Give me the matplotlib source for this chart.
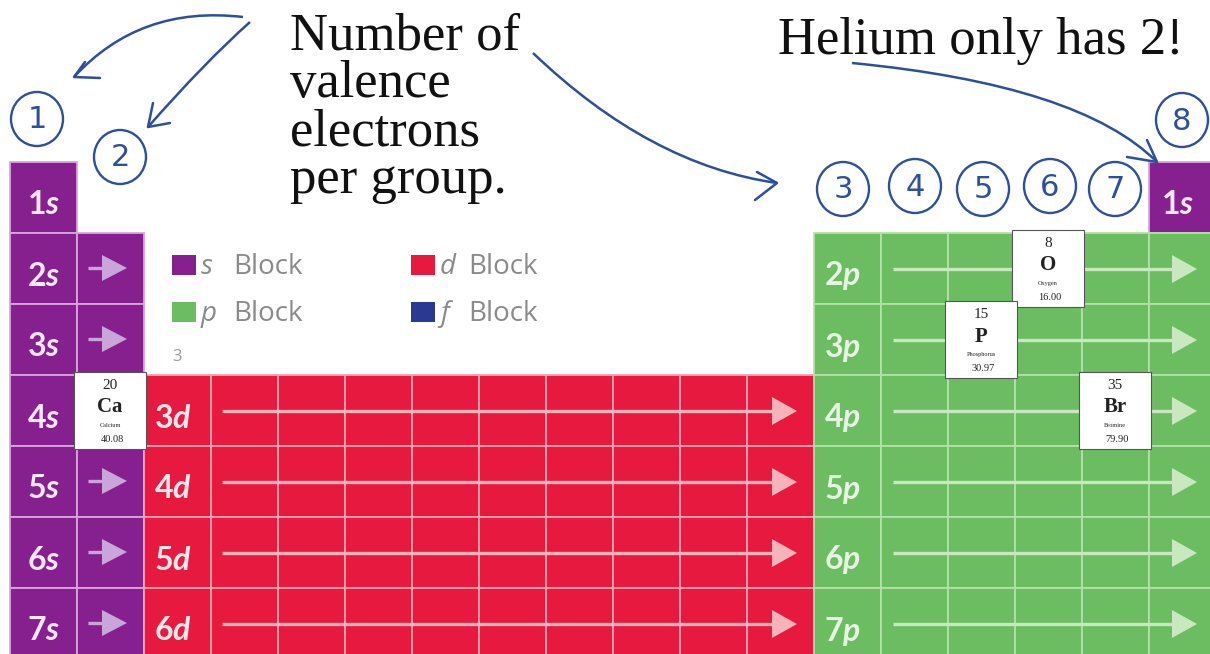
import matplotlib.pyplot as plt
from matplotlib.patches import Rectangle, Polygon, Ellipse, PathPatch
from matplotlib.path import Path

plt.rcParams["mathtext.fontset"] = "custom"
plt.rcParams["mathtext.rm"] = "Lato:bold"
plt.rcParams["mathtext.it"] = "Lato:italic:bold"

# chart content
s_labels = ["1s", "2s", "3s", "4s", "5s", "6s", "7s"]
d_labels = ["3d", "4d", "5d", "6d"]
p_labels = ["2p", "3p", "4p", "5p", "6p", "7p"]
legend_letters = ["s", "d", "p", "f"]
el_symbols = ["Ca", "O", "P", "Br"]
el_numbers = ["20", "8", "15", "35"]
el_names = ["Calcium", "Oxygen", "Phosphorus", "Bromine"]
el_masses = ["40.08", "16.00", "30.97", "79.90"]
el_cells = [(1, 3), (15, 1), (14, 2), (16, 3)]  # (group column, row)
group_numbers = ["1", "2", "3", "4", "5", "6", "7", "8"]
note_lines = ["Number of", "valence", "electrons", "per group."]
helium_note = "Helium only has 2!"

PURPLE, RED, GREEN, NAVY = "#87208f", "#e8193f", "#6cbd62", "#2b3990"
INK = "#2c4f9e"
X0, Y0, CW, RH = 10, 161.5, 67, 71

fig = plt.figure(figsize=(12.1, 6.54), dpi=100)
ax = fig.add_axes([0, 0, 1, 1])
ax.set_xlim(0, 1210)
ax.set_ylim(654, 0)
ax.axis("off")


def cell(col, row, fc, ec):
    ax.add_patch(Rectangle((X0 + col * CW, Y0 + row * RH), CW, RH,
                           facecolor=fc, edgecolor=ec, lw=1.3, zorder=1))


def label(col, row, txt, color, ha="left", dx=10):
    num, let = txt[0], txt[1]
    x = X0 + col * CW + (CW / 2 if ha == "center" else dx)
    ax.text(x, Y0 + row * RH + RH / 2 + 8, num + "$\\mathit{" + let + "}$",
            color=color, fontsize=23, fontweight="bold", family="Lato",
            ha=ha, va="center", zorder=4)


def arrow(x1, x2, y, color, hl=25, hw=13):
    ax.plot([x1, x2 - hl + 2], [y, y], color=color, lw=2.4, zorder=3,
            solid_capstyle="butt")
    ax.add_patch(Polygon([(x2 - hl, y - hw), (x2, y), (x2 - hl, y + hw)],
                         closed=True, color=color, lw=0, zorder=3))


# s block
for r, lab in enumerate(s_labels):
    cell(0, r, PURPLE, "#d9a5dc")
    label(0, r, lab, "#f8e8f8", ha="center")
    if r > 0:
        cell(1, r, PURPLE, "#d9a5dc")
        arrow(88, 127, Y0 + r * RH + RH / 2, "#c9a6d9")
# helium
cell(17, 0, PURPLE, "#d9a5dc")
label(17, 0, "1s", "#f8e8f8", ha="left", dx=12)

# d block
for i, lab in enumerate(d_labels):
    r = 3 + i
    for c in range(2, 12):
        cell(c, r, RED, "#f6a2b0")
    label(2, r, lab, "#fde8ea")
    arrow(222, 797, Y0 + r * RH + RH / 2 + 1, "#f6b4b8", hw=14)

# p block
for i, lab in enumerate(p_labels):
    r = 1 + i
    for c in range(12, 18):
        cell(c, r, GREEN, "#b4e0ac")
    label(12, r, lab, "#e6f4e2")
    arrow(893, 1197, Y0 + r * RH + RH / 2 + 1, "#c9e8c0", hw=14)

# legend
leg_colors = [PURPLE, RED, GREEN, NAVY]
leg_pos = [(172, 255), (411, 255), (172, 302), (411, 302)]
for let, col, (lx, ly) in zip(legend_letters, leg_colors, leg_pos):
    ax.add_patch(Rectangle((lx, ly), 24, 20, color=col, lw=0, zorder=2))
    ax.text(lx + 29, ly + 19, let, fontsize=20, style="italic", family="Open Sans",
            color="#8a8a8a", va="baseline", zorder=2)
    ax.text(lx + 61 if let in "sp" else lx + 57, ly + 19, "Block", fontsize=20,
            family="Open Sans", color="#8a8a8a", va="baseline", zorder=2)
ax.text(172, 357, "3", fontsize=12, family="Open Sans", color="#999999",
        va="center")

# element tiles
for sym, num, name, mass, (c, r) in zip(el_symbols, el_numbers, el_names,
                                        el_masses, el_cells):
    bx, by = X0 + c * CW - 3, Y0 + r * RH - 3
    ax.add_patch(Rectangle((bx, by), CW + 5, RH + 6, facecolor="white",
                           edgecolor="#555555", lw=0.8, zorder=5))
    cx = bx + (CW + 5) / 2
    kw = dict(family="Liberation Serif", ha="center", va="center", zorder=6,
              color="#222222")
    ax.text(cx, by + 14, num, fontsize=11, **kw)
    ax.text(cx, by + 36, sym, fontsize=15, fontweight="bold", **kw)
    ax.text(cx, by + 54, name, fontsize=4.5, **kw)
    ax.text(cx + 2, by + 68, mass, fontsize=7.5, **kw)

# text notes
for i, line in enumerate(note_lines):
    ax.text(290, 49 + i * 48, line, family="Liberation Serif", fontsize=38,
            color="#111111", va="baseline")
ax.text(778, 54, helium_note, family="Liberation Serif", fontsize=38,
        color="#111111", va="baseline")

# handwritten group numbers
circle_xy = [(37, 119), (120, 157), (843, 189), (915, 186), (983, 189),
             (1050, 186), (1115, 189), (1182, 120)]
for g, (cx, cy) in zip(group_numbers, circle_xy):
    ax.add_patch(Ellipse((cx, cy), 52, 54, fill=False, edgecolor=INK, lw=1.7,
                         zorder=7))
    ax.text(cx, cy + 1, g, family="DejaVu Sans", fontsize=22,
            color=INK, ha="center", va="center", zorder=7)

# handwritten arrows
curves = [((243, 17), (140, 5), (74, 77)),
          ((250, 22), (205, 62), (148, 127)),
          ((533, 53), (650, 165), (777, 183)),
          ((852, 63), (1080, 85), (1157, 162))]
heads = [((74, 77), (85, 62), (100, 78)),
         ((148, 127), (153, 103), (170, 123)),
         ((777, 183), (757, 172), (755, 200)),
         ((1157, 162), (1147, 140), (1127, 157))]
for (p0, p1, p2), (tip, h1, h2) in zip(curves, heads):
    path = Path([p0, p1, p2], [Path.MOVETO, Path.CURVE3, Path.CURVE3])
    ax.add_patch(PathPatch(path, fill=False, edgecolor=INK, lw=1.8, zorder=7))
    ax.plot([h1[0], tip[0], h2[0]], [h1[1], tip[1], h2[1]], color=INK, lw=1.8,
            zorder=7, solid_joinstyle="round", solid_capstyle="round")

fig.savefig("out.png", dpi=100)
